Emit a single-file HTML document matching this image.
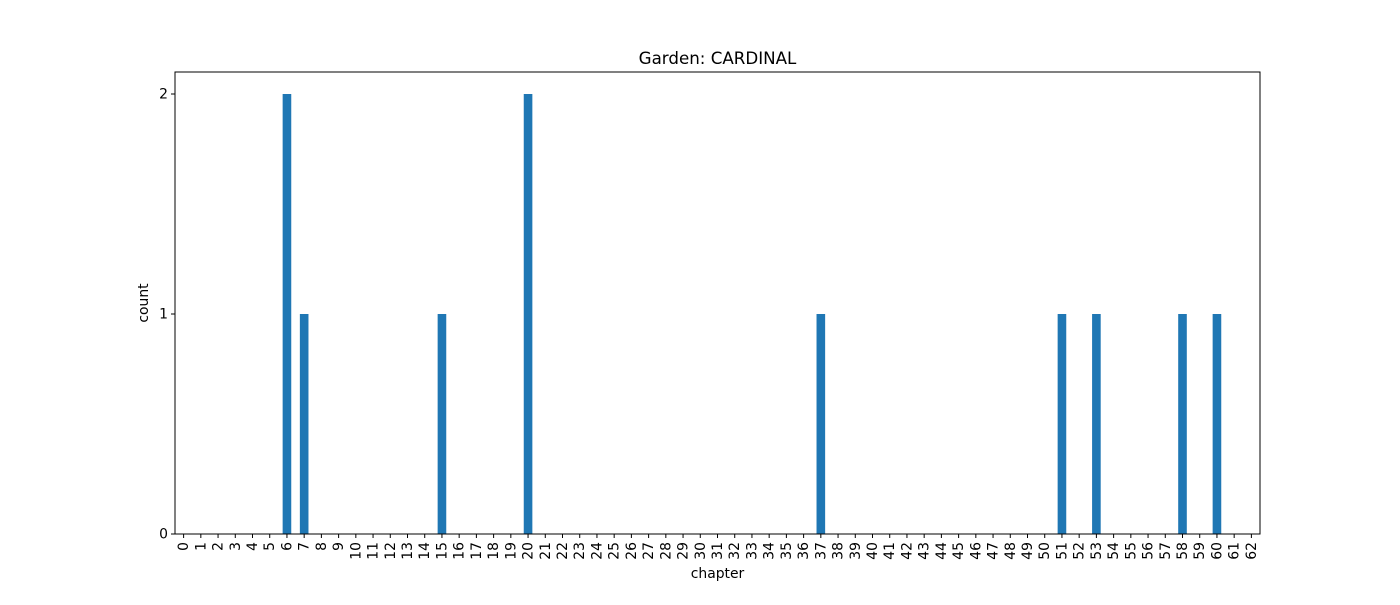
<!DOCTYPE html>
<html><head><meta charset="utf-8"><style>
body{margin:0;background:#fff;}
svg text{font-family:"DejaVu Sans","Liberation Sans",sans-serif;fill:#000;}
</style></head><body>
<svg id="chart" width="1400" height="600" xmlns="http://www.w3.org/2000/svg">
<rect width="1400" height="600" fill="#fff"/>
<text x="717.5" y="64" font-size="16.7" text-anchor="middle">Garden: CARDINAL</text>
<g id="bars"></g>
<g id="xticks"></g>
<g id="yticks"></g>
<rect x="175" y="72" width="1085" height="462" fill="none" stroke="#000" stroke-width="1"/>
<text x="717.5" y="578" font-size="13.9" text-anchor="middle">chapter</text>
<text transform="translate(148,303) rotate(-90)" font-size="13.9" text-anchor="middle">count</text>
</svg>
<script>
const categories = Array.from({length:63},(_, i)=>String(i));
const counts = [0,0,0,0,0,0,2,1,0,0,0,0,0,0,0,1,0,0,0,0,2,0,0,0,0,0,0,0,0,0,0,0,0,0,0,0,0,1,0,0,0,0,0,0,0,0,0,0,0,0,0,1,0,1,0,0,0,0,1,0,1,0,0];
const yTicks = [0,1,2];
const L=175,R=1260,T=72,B=534,yMax=2.1;
const step=(R-L)/categories.length;
const xc=i=>L+(i+0.5)*step;
const y=v=>B-(v/yMax)*(B-T);
const NS="http://www.w3.org/2000/svg";
const bars=document.getElementById('bars'),xt=document.getElementById('xticks'),yt=document.getElementById('yticks');
categories.forEach((c,i)=>{
  const v=counts[i];
  if(v>0){
    const r=document.createElementNS(NS,'rect');
    
    
    r.setAttribute('x',xc(i)-step/4);r.setAttribute('width',step/2);
    r.setAttribute('y',y(v));r.setAttribute('height',B-y(v));
    r.setAttribute('fill','#1f77b4');bars.appendChild(r);
  }
  const l=document.createElementNS(NS,'line');
  
  
  l.setAttribute('x1',xc(i));l.setAttribute('x2',xc(i));l.setAttribute('y1',B);l.setAttribute('y2',B+4);
  l.setAttribute('stroke','#000');xt.appendChild(l);
  const t=document.createElementNS(NS,'text');
  
  
  t.setAttribute('font-size','13.9');t.setAttribute('text-anchor','end');
  t.setAttribute('transform','translate('+(xc(i)+4.5)+','+(B+8)+') rotate(-90)');
  t.textContent=c;xt.appendChild(t);
});
yTicks.forEach(v=>{
  const l=document.createElementNS(NS,'line');
  
  
  l.setAttribute('x1',L-4);l.setAttribute('x2',L);l.setAttribute('y1',y(v));l.setAttribute('y2',y(v));
  l.setAttribute('stroke','#000');yt.appendChild(l);
  const t=document.createElementNS(NS,'text');
  
  
  t.setAttribute('font-size','13.9');t.setAttribute('text-anchor','end');
  t.setAttribute('x',L-7);t.setAttribute('y',y(v)+4.5);
  t.textContent=String(v);yt.appendChild(t);
});
</script>
</body></html>
